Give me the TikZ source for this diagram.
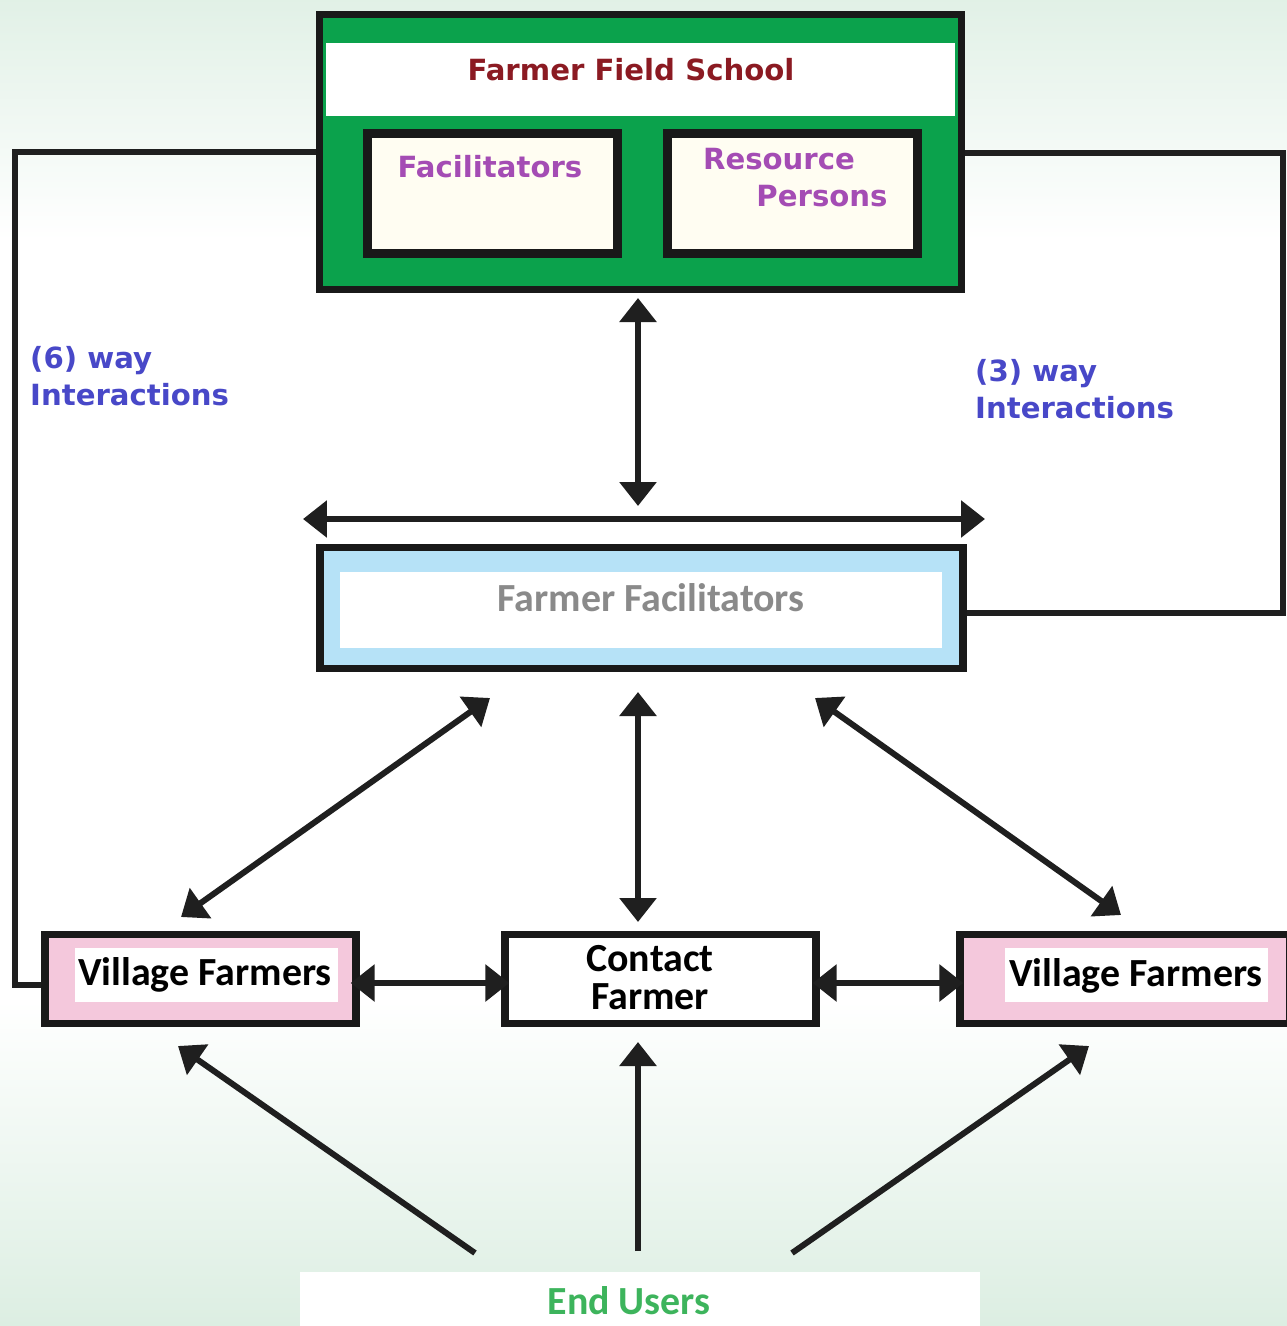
\documentclass[tikz,border=0pt]{standalone}
\usepackage{fontspec}
\setmainfont{Carlito}
\newfontfamily\tahfont{DejaVu Sans}
\usetikzlibrary{arrows.meta}
\definecolor{ffsgreen}{HTML}{0BA24C}
\definecolor{ttlred}{HTML}{8B1A22}
\definecolor{ppl}{HTML}{A44CB4}
\definecolor{intblue}{HTML}{4848C8}
\definecolor{ffgray}{HTML}{8A8A8A}
\definecolor{ffblue}{HTML}{B6E2F7}
\definecolor{vpink}{HTML}{F4C8DC}
\definecolor{eugreen}{HTML}{3DB45C}
\definecolor{bgmint}{HTML}{DCEEE2}
\definecolor{cream}{HTML}{FFFDF2}
\begin{document}
\begin{tikzpicture}[x=0.02cm,y=-0.02cm,
  boxline/.style={draw=black!90, line width=4.2pt, inner sep=0pt},
  plainbox/.style={inner sep=0pt, draw=none},
  conn/.style={draw=black!88, line width=3.4pt},
  dbl/.style={conn, {Triangle[length=0.48cm,width=0.72cm]}-{Triangle[length=0.48cm,width=0.72cm]}},
  sgl/.style={conn, -{Triangle[length=0.48cm,width=0.72cm]}},
  tfont/.style={font=\tahfont\bfseries\fontsize{16.6}{21}\selectfont},
  cfont/.style={font=\bfseries\fontsize{22.7}{21.6}\selectfont}
]
\useasboundingbox (0,0) rectangle (1287,1326);
\fill[white] (0,0) rectangle (1287,1326);
\shade[top color=bgmint!85, bottom color=white] (0,0) rectangle (1287,240);
\shade[top color=white, bottom color=bgmint] (0,1000) rectangle (1287,1326);

% Farmer Field School
\node[boxline, fill=ffsgreen, minimum width=12.84cm, minimum height=5.5cm] (ffs) at (640.5,152) {};
\node[plainbox, fill=white, minimum width=12.58cm, minimum height=1.46cm] (band) at (640.5,79.5) {};
\node[tfont, text=ttlred] (ttl) at (631,70) {Farmer Field School};
\node[boxline, fill=cream, line width=4.6pt, minimum width=5.0cm, minimum height=2.4cm] (fac) at (492.5,193.5) {};
\node[tfont, text=ppl] (factxt) at (490,167) {Facilitators};
\node[boxline, fill=cream, line width=4.6pt, minimum width=5.0cm, minimum height=2.4cm] (res) at (792.5,193.5) {};
\node[tfont, text=ppl] (restxt1) at (779,159) {Resource};
\node[tfont, text=ppl] (restxt2) at (822,196) {Persons};

% interaction labels
\node[tfont, text=intblue, align=left, anchor=west] (six) at (24,376) {(6) way\\Interactions};
\node[tfont, text=intblue, align=left, anchor=west] (three) at (969,389) {(3) way\\Interactions};

% Farmer Facilitators
\node[boxline, fill=ffblue, minimum width=12.86cm, minimum height=2.42cm] (ff) at (641.5,608) {};
\node[plainbox, fill=white, minimum width=12.04cm, minimum height=1.52cm] (ffin) at (641,610) {};
\node[cfont, text=ffgray] (fftxt) at (651,598) {Farmer Facilitators};

% bottom row
\node[boxline, fill=vpink, minimum width=6.22cm, minimum height=1.78cm] (vfl) at (200.5,979) {};
\node[plainbox, fill=white, minimum width=5.26cm, minimum height=1.08cm] (vflin) at (206.5,975) {};
\node[cfont] (vfltxt) at (205,975) {Village Farmers};
\node[boxline, fill=white, minimum width=6.22cm, minimum height=1.78cm] (cf) at (660.5,979) {};
\node[cfont, align=center] (cftxt) at (650,978) {Contact\\Farmer};
\node[boxline, fill=vpink, minimum width=6.6cm, minimum height=1.78cm] (vfr) at (1125,979) {};
\node[plainbox, fill=white, minimum width=5.26cm, minimum height=1.08cm] (vfrin) at (1136.5,975) {};
\node[cfont] (vfrtxt) at (1136,976) {Village Farmers};

% End users
\node[plainbox, fill=white, minimum width=13.6cm, minimum height=1.4cm] (eu) at (640,1307) {};
\node[cfont, text=eugreen] (eutxt) at (629,1301) {End Users};

% outer connectors
\coordinate (l1) at (15,152);
\coordinate (l2) at (15,985);
\draw[conn, line join=miter] (ffs.west) -- (l1) -- (l2) -- (vfl.west |- l2);
\coordinate (r1) at (1283,153);
\coordinate (r2) at (1283,613);
\draw[conn, line join=miter] (ffs.east |- r1) -- (r1) -- (r2) -- (ff.east |- r2);

% arrows
\coordinate (a1) at (638,298);
\coordinate (a2) at (638,506);
\draw[dbl] (a1) -- (a2);
\coordinate (h1) at (303,519);
\coordinate (h2) at (985,519);
\draw[dbl] (h1) -- (h2);

\coordinate (d1a) at (490,698);
\coordinate (d1b) at (181,917);
\draw[dbl] (d1a) -- (d1b);
\coordinate (d2a) at (638,692);
\coordinate (d2b) at (638,922);
\draw[dbl] (d2a) -- (d2b);
\coordinate (d3a) at (815,698);
\coordinate (d3b) at (1121,915);
\draw[dbl] (d3a) -- (d3b);

\draw[dbl] ([xshift=-0.18cm]vfl.east |- 0,983) -- ([xshift=0.16cm]cf.west |- 0,983);
\draw[dbl] ([xshift=-0.14cm]cf.east |- 0,983) -- ([xshift=0.14cm]vfr.west |- 0,983);

\coordinate (u1) at (475,1253);
\coordinate (u1t) at (178,1046);
\draw[sgl] (u1) -- (u1t);
\coordinate (u2) at (638,1251);
\coordinate (u2t) at (638,1042);
\draw[sgl] (u2) -- (u2t);
\coordinate (u3) at (792,1253);
\coordinate (u3t) at (1089,1046);
\draw[sgl] (u3) -- (u3t);
\end{tikzpicture}
\end{document}
